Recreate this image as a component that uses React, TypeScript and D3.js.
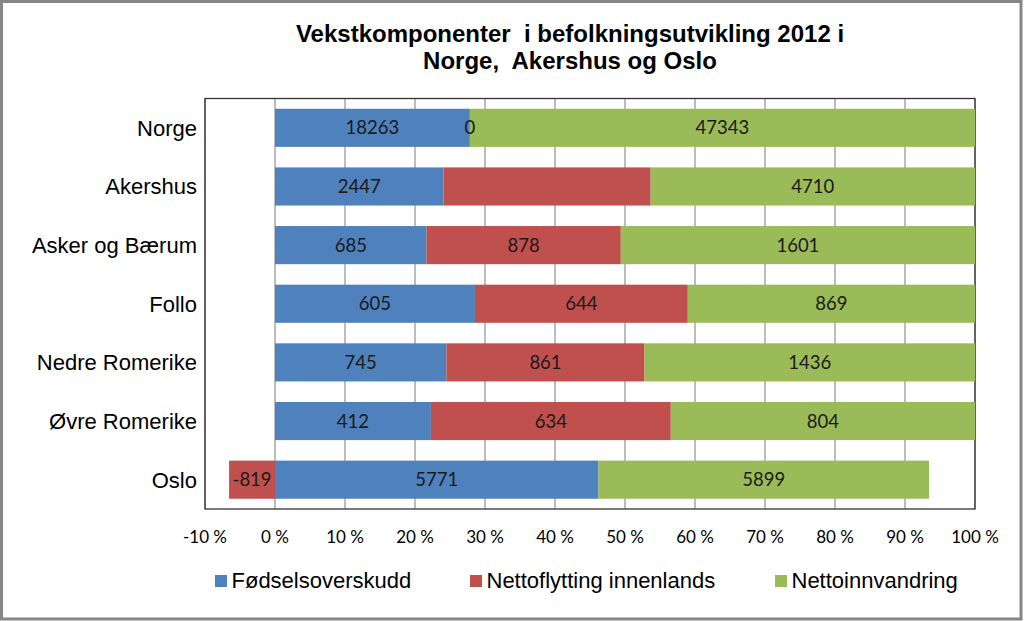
import React from 'react';
import * as d3 from 'd3';

const categories = ['Norge', 'Akershus', 'Asker og Bærum', 'Follo', 'Nedre Romerike', 'Øvre Romerike', 'Oslo'];
const seriesNames = ['Fødselsoverskudd', 'Nettoflytting innenlands', 'Nettoinnvandring'];
const fodselsoverskudd = [18263, 2447, 685, 605, 745, 412, 5771];
const nettoflytting = [0, 3008, 878, 644, 861, 634, -819];
const nettoinnvandring = [47343, 4710, 1601, 869, 1436, 804, 5899];
const hiddenLabels = [['Akershus', 'Nettoflytting innenlands']];
const xTicks = [-0.1, 0, 0.1, 0.2, 0.3, 0.4, 0.5, 0.6, 0.7, 0.8, 0.9, 1.0];
const titleLines = ['Vekstkomponenter  i befolkningsutvikling 2012 i', 'Norge,  Akershus og Oslo'];
const colors = ['#4F81BD', '#C0504D', '#9BBB59'];

const W = 1024;
const H = 621;
const plot = { left: 205, top: 98.5, right: 975, bottom: 509 };

export default function App() {
  const x = d3.scaleLinear().domain([-0.1, 1]).range([plot.left, plot.right]);
  const y = d3.scaleBand<string>().domain(categories).range([plot.top, plot.bottom]).paddingInner(0.35).paddingOuter(0.175);
  const seriesValues = [fodselsoverskudd, nettoflytting, nettoinnvandring];

  type Seg = { cat: string; series: string; si: number; value: number; x0: number; x1: number };
  const segs: Seg[] = [];
  categories.forEach((cat, ci) => {
    const total = d3.sum(seriesValues, (s) => Math.abs(s[ci]));
    let pos = 0;
    let neg = 0;
    seriesValues.forEach((s, si) => {
      const v = s[ci] / total;
      let x0: number, x1: number;
      if (v >= 0) { x0 = pos; x1 = pos + v; pos = x1; }
      else { x1 = neg; x0 = neg + v; neg = x0; }
      segs.push({ cat, series: seriesNames[si], si, value: s[ci], x0, x1 });
    });
  });
  const isHidden = (s: Seg) => hiddenLabels.some(([c, n]) => c === s.cat && n === s.series);
  const fmt = (v: number) => String(v);

  const legendX = [215, 470, 775];

  return (
    <svg width={W} height={H} style={{ position: 'absolute', left: 0, top: 0, display: 'block' }}>
      <rect x={0} y={0} width={W} height={H} fill="#fff" />
      <rect x={1.5} y={1.5} width={1019.5} height={617.5} fill="none" stroke="#868686" strokeWidth={3} />
      {titleLines.map((t, i) => (
        <text key={i} x={570} y={42 + i * 27} textAnchor="middle" fontFamily="'Liberation Sans', Arial, sans-serif" fontWeight="bold" fontSize={24} fill="#000" style={{ whiteSpace: 'pre' }}>{t}</text>
      ))}
      {xTicks.map((t) => (
        <line key={t} x1={x(t)} x2={x(t)} y1={plot.top} y2={plot.bottom} stroke="#9a9a9a" strokeWidth={1.3} />
      ))}
      <rect x={plot.left} y={plot.top} width={plot.right - plot.left} height={plot.bottom - plot.top} fill="none" stroke="#333" strokeWidth={1.3} />
      {segs.map((s, i) => (
        <rect key={i} x={x(s.x0)} y={y(s.cat)!} width={Math.max(0, x(s.x1) - x(s.x0))} height={y.bandwidth()} fill={colors[s.si]} />
      ))}
      {segs.filter((s) => !isHidden(s)).map((s, i) => (
        <text key={i} x={(x(s.x0) + x(s.x1)) / 2} y={y(s.cat)! + y.bandwidth() / 2} dy="0.36em" textAnchor="middle" fontFamily="Lato, 'Open Sans', sans-serif" fontSize={18.5} fill="#1a1a1a">{fmt(s.value)}</text>
      ))}
      {categories.map((c) => (
        <text key={c} x={197} y={y(c)! + y.bandwidth() / 2} dy="0.36em" textAnchor="end" fontFamily="'Liberation Sans', Arial, sans-serif" fontSize={22} fill="#000">{c}</text>
      ))}
      {xTicks.map((t) => (
        <text key={t} x={x(t)} y={543} textAnchor="middle" fontFamily="Lato, 'Open Sans', sans-serif" fontSize={17} fill="#000">{`${Math.round(t * 100)} %`}</text>
      ))}
      {seriesNames.map((n, i) => (
        <g key={n}>
          <rect x={legendX[i]} y={575} width={12} height={12} fill={colors[i]} />
          <text x={legendX[i] + 16.5} y={588} fontFamily="'Liberation Sans', Arial, sans-serif" fontSize={22} fill="#000">{n}</text>
        </g>
      ))}
    </svg>
  );
}
